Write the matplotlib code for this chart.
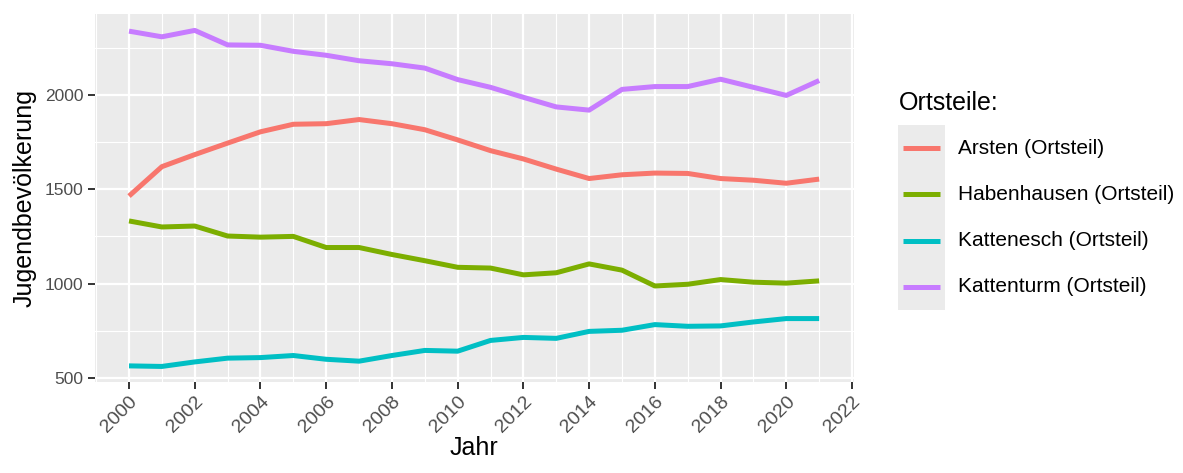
import matplotlib.pyplot as plt
from matplotlib.lines import Line2D
from matplotlib.patches import Rectangle
from matplotlib.ticker import MultipleLocator

plt.rcParams['font.family'] = ['Liberation Sans', 'DejaVu Sans']

# data
jahre = list(range(2000, 2022))
arsten = [1464, 1620, 1684, 1745, 1805, 1845, 1848, 1870, 1848, 1816, 1762,
          1705, 1661, 1607, 1557, 1577, 1586, 1584, 1557, 1548, 1532, 1554]
habenhausen = [1332, 1300, 1305, 1252, 1246, 1250, 1191, 1191, 1154, 1121, 1086,
               1082, 1046, 1057, 1104, 1071, 987, 996, 1021, 1007, 1002, 1014]
kattenesch = [563, 560, 584, 604, 607, 618, 598, 588, 618, 645, 641,
              698, 714, 709, 746, 752, 782, 773, 775, 796, 814, 814]
kattenturm = [2339, 2309, 2343, 2266, 2264, 2232, 2211, 2182, 2166, 2143, 2082,
              2041, 1988, 1937, 1920, 2030, 2045, 2045, 2084, 2041, 1998, 2077]

namen = ['Arsten (Ortsteil)', 'Habenhausen (Ortsteil)',
         'Kattenesch (Ortsteil)', 'Kattenturm (Ortsteil)']
farben = ['#F8766D', '#7CAE00', '#00BFC4', '#C77CFF']
serien = [arsten, habenhausen, kattenesch, kattenturm]

fig = plt.figure(figsize=(11.83, 4.73), dpi=100)
ax = fig.add_axes([0.0799, 0.193, 0.6417, 0.7774])

ax.set_facecolor('#EBEBEB')
for werte, farbe in zip(serien, farben):
    ax.plot(jahre, werte, color=farbe, lw=3.6, solid_capstyle='butt', zorder=3)

ax.set_xlim(1998.95, 2022.05)
ax.set_ylim(479, 2430)
ax.xaxis.set_major_locator(MultipleLocator(2))
ax.xaxis.set_minor_locator(MultipleLocator(1))
ax.yaxis.set_major_locator(MultipleLocator(500))
ax.yaxis.set_minor_locator(MultipleLocator(250))
ax.set_xticks(range(2000, 2023, 2))

ax.grid(which='major', color='white', lw=1.6, zorder=0)
ax.grid(which='minor', color='white', lw=0.8, zorder=0)
ax.set_axisbelow(True)
for s in ax.spines.values():
    s.set_visible(False)

ax.tick_params(which='major', length=5, width=1.4, color='#333333',
               labelcolor='#4D4D4D', pad=3)
ax.tick_params(which='minor', length=0)
ax.tick_params(axis='y', labelsize=12.5)
ax.tick_params(axis='x', labelsize=14)
for lab in ax.get_xticklabels():
    lab.set_rotation(45)
    lab.set_ha('right')
    lab.set_va('top')
    lab.set_rotation_mode('anchor')

ax.set_xlabel('Jahr', fontsize=18, labelpad=0)
ax.set_ylabel('Jugendbevölkerung', fontsize=18, labelpad=6)

# legend in ggplot style
W, H = 1183, 473
fig.text(899 / W, 1 - 103 / H, 'Ortsteile:', fontsize=18, va='center', ha='left')
fig.patches.append(Rectangle((898 / W, 1 - 310 / H), 47 / W, 185 / H,
                             transform=fig.transFigure, facecolor='#EBEBEB',
                             edgecolor='none'))
for i, (name, farbe) in enumerate(zip(namen, farben)):
    y = 1 - (148 + i * 46.3) / H
    fig.lines.append(Line2D([903 / W, 940 / W], [y, y], transform=fig.transFigure,
                            color=farbe, lw=3.6, solid_capstyle='butt'))
    fig.text(958 / W, y, name, fontsize=15, va='center', ha='left')

fig.savefig('out.png', dpi=100)
